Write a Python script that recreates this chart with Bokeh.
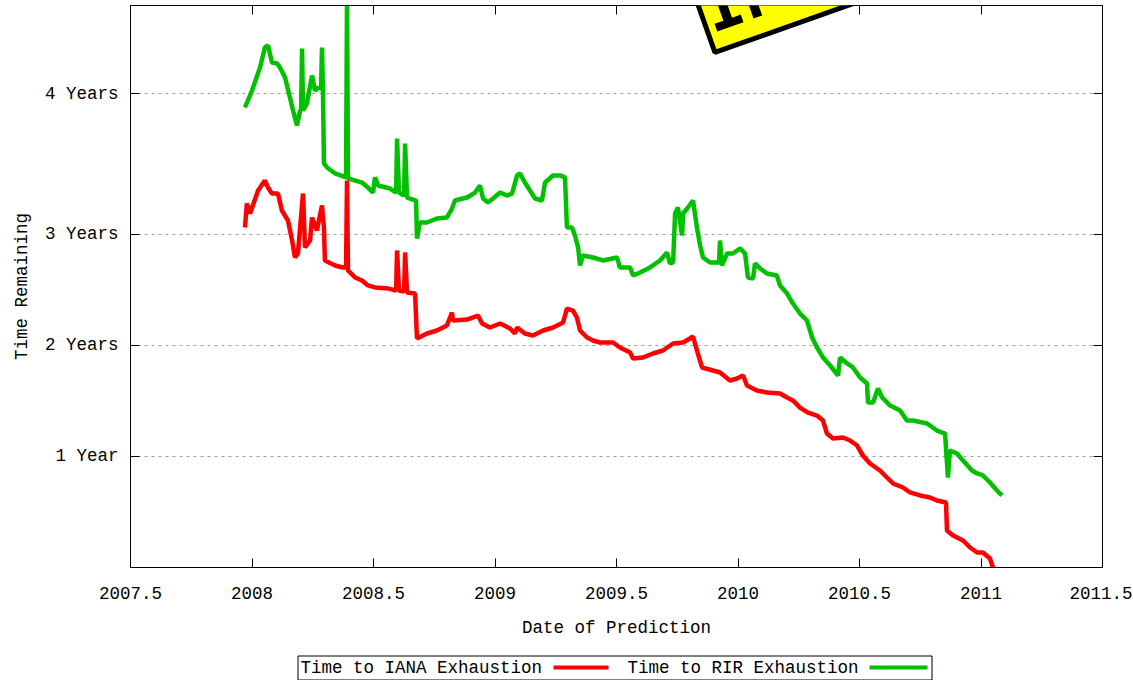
from bokeh.plotting import figure
from bokeh.models import FixedTicker, LinearAxis, Label, Range1d
from bokeh.layouts import column
from bokeh.core.properties import value
from bokeh.embed import file_html
from bokeh.resources import INLINE

# ---- data ----
iana_x = [2007.971, 2007.979, 2007.992, 2008.025, 2008.053, 2008.066, 2008.082, 2008.107, 2008.123, 2008.148,
          2008.165, 2008.177, 2008.189, 2008.210, 2008.218, 2008.239, 2008.247, 2008.267, 2008.288, 2008.296,
          2008.300, 2008.342, 2008.374, 2008.387, 2008.391, 2008.395, 2008.424, 2008.453, 2008.477, 2008.506,
          2008.560, 2008.593, 2008.597, 2008.605, 2008.626, 2008.630, 2008.638, 2008.671, 2008.679, 2008.720,
          2008.761, 2008.802, 2008.823, 2008.827, 2008.885, 2008.930, 2008.947, 2008.979, 2009.021, 2009.062,
          2009.082, 2009.091, 2009.123, 2009.156, 2009.198, 2009.239, 2009.280, 2009.296, 2009.321, 2009.337,
          2009.350, 2009.379, 2009.403, 2009.432, 2009.486, 2009.514, 2009.556, 2009.568, 2009.609, 2009.650,
          2009.691, 2009.733, 2009.774, 2009.802, 2009.815, 2009.831, 2009.852, 2009.897, 2009.926, 2009.967,
          2009.996, 2010.021, 2010.037, 2010.078, 2010.119, 2010.173, 2010.202, 2010.226, 2010.255, 2010.288,
          2010.325, 2010.350, 2010.366, 2010.391, 2010.432, 2010.461, 2010.490, 2010.514, 2010.543, 2010.584,
          2010.613, 2010.638, 2010.679, 2010.708, 2010.749, 2010.790, 2010.819, 2010.856, 2010.860, 2010.885,
          2010.926, 2010.955, 2010.984, 2011.008, 2011.037, 2011.049, 2011.058]
iana_years = [3.063, 3.279, 3.189, 3.396, 3.486, 3.423, 3.369, 3.369, 3.216, 3.126,
              2.946, 2.793, 2.829, 3.369, 2.883, 2.946, 3.153, 3.036, 3.261, 3.063,
              2.766, 2.721, 2.703, 2.703, 3.486, 2.676, 2.613, 2.586, 2.541, 2.523,
              2.514, 2.495, 2.856, 2.495, 2.486, 2.838, 2.477, 2.468, 2.063, 2.108,
              2.135, 2.180, 2.297, 2.225, 2.234, 2.270, 2.198, 2.162, 2.198, 2.153,
              2.108, 2.162, 2.108, 2.090, 2.135, 2.162, 2.207, 2.333, 2.315, 2.252,
              2.135, 2.072, 2.045, 2.027, 2.027, 1.982, 1.937, 1.883, 1.892, 1.928,
              1.955, 2.018, 2.027, 2.063, 2.081, 1.955, 1.802, 1.775, 1.757, 1.685,
              1.703, 1.730, 1.640, 1.595, 1.577, 1.568, 1.532, 1.505, 1.441, 1.396,
              1.369, 1.324, 1.207, 1.162, 1.171, 1.144, 1.099, 1.009, 0.937, 0.874,
              0.811, 0.757, 0.721, 0.676, 0.649, 0.631, 0.604, 0.586, 0.333, 0.288,
              0.243, 0.180, 0.135, 0.135, 0.081, 0.000, -0.045]

rir_x = [2007.971, 2008.000, 2008.033, 2008.053, 2008.066, 2008.082, 2008.103, 2008.115, 2008.136, 2008.169,
         2008.185, 2008.198, 2008.202, 2008.206, 2008.210, 2008.226, 2008.247, 2008.259, 2008.272, 2008.284,
         2008.288, 2008.292, 2008.296, 2008.309, 2008.342, 2008.387, 2008.391, 2008.395, 2008.453, 2008.477,
         2008.498, 2008.506, 2008.519, 2008.568, 2008.593, 2008.597, 2008.605, 2008.626, 2008.630, 2008.638,
         2008.675, 2008.679, 2008.691, 2008.720, 2008.761, 2008.802, 2008.823, 2008.835, 2008.885, 2008.918,
         2008.938, 2008.951, 2008.971, 2008.992, 2009.021, 2009.049, 2009.070, 2009.091, 2009.103, 2009.123,
         2009.144, 2009.165, 2009.193, 2009.206, 2009.239, 2009.267, 2009.288, 2009.296, 2009.317, 2009.329,
         2009.342, 2009.350, 2009.362, 2009.403, 2009.444, 2009.502, 2009.514, 2009.556, 2009.568, 2009.597,
         2009.638, 2009.679, 2009.708, 2009.720, 2009.733, 2009.741, 2009.753, 2009.770, 2009.774, 2009.794,
         2009.815, 2009.831, 2009.844, 2009.856, 2009.885, 2009.922, 2009.926, 2009.934, 2009.955, 2009.979,
         2010.008, 2010.029, 2010.041, 2010.062, 2010.070, 2010.091, 2010.119, 2010.160, 2010.173, 2010.202,
         2010.226, 2010.255, 2010.284, 2010.305, 2010.325, 2010.350, 2010.379, 2010.412, 2010.420, 2010.449,
         2010.473, 2010.502, 2010.531, 2010.535, 2010.556, 2010.576, 2010.593, 2010.626, 2010.667, 2010.695,
         2010.720, 2010.778, 2010.819, 2010.852, 2010.864, 2010.872, 2010.901, 2010.926, 2010.963, 2010.984,
         2011.008, 2011.037, 2011.066, 2011.086]
rir_years = [4.144, 4.297, 4.505, 4.685, 4.703, 4.550, 4.541, 4.505, 4.414, 4.117,
             3.982, 4.117, 4.117, 4.676, 4.117, 4.180, 4.432, 4.297, 4.324, 4.315,
             4.685, 4.297, 3.640, 3.604, 3.550, 3.514, 5.153, 3.505, 3.468, 3.423,
             3.378, 3.514, 3.441, 3.414, 3.378, 3.865, 3.378, 3.351, 3.820, 3.333,
             3.306, 2.964, 3.108, 3.108, 3.144, 3.153, 3.234, 3.306, 3.333, 3.378,
             3.441, 3.324, 3.288, 3.324, 3.378, 3.351, 3.369, 3.532, 3.550, 3.468,
             3.396, 3.324, 3.306, 3.468, 3.532, 3.532, 3.514, 3.063, 3.063, 2.991,
             2.883, 2.721, 2.811, 2.793, 2.766, 2.793, 2.703, 2.703, 2.631, 2.658,
             2.703, 2.766, 2.838, 2.739, 2.748, 3.189, 3.243, 2.991, 3.189, 3.243,
             3.306, 3.063, 2.901, 2.793, 2.748, 2.748, 2.946, 2.721, 2.829, 2.829,
             2.874, 2.829, 2.613, 2.604, 2.739, 2.694, 2.649, 2.631, 2.541, 2.468,
             2.378, 2.288, 2.225, 2.072, 1.982, 1.892, 1.820, 1.730, 1.892, 1.838,
             1.802, 1.712, 1.658, 1.486, 1.486, 1.613, 1.532, 1.459, 1.414, 1.324,
             1.324, 1.297, 1.234, 1.207, 0.811, 1.054, 1.027, 0.964, 0.874, 0.847,
             0.829, 0.766, 0.694, 0.649]

x_ticks = [2007.5, 2008, 2008.5, 2009, 2009.5, 2010, 2010.5, 2011, 2011.5]
x_tick_labels = ["2007.5", "2008", "2008.5", "2009", "2009.5", "2010", "2010.5", "2011", "2011.5"]
y_ticks = [1, 2, 3, 4.27]
y_tick_labels = ["1 Year", "2 Years", "3 Years", "4 Years"]
series_names = ["Time to IANA Exhaustion", "Time to RIR Exhaustion"]
sticker_text = "IPv4"

FONT = "Liberation Mono"
FS = "17.5px"
RED = "#ff0000"
GREEN = "#00c000"

p = figure(frame_width=972, frame_height=562,
           x_range=Range1d(2007.5, 2011.5), y_range=Range1d(0, 5.063),
           output_backend="svg", toolbar_location=None,
           min_border_left=130, min_border_right=30, min_border_top=5, min_border_bottom=80,
           x_axis_label="Date of Prediction", y_axis_label="Time Remaining")
p.background_fill_color = "white"
p.border_fill_color = "white"
p.outline_line_color = "black"

bottom_axis = p.below[0]
left_axis = p.left[0]

xt = FixedTicker(ticks=x_ticks)
yt = FixedTicker(ticks=y_ticks)
bottom_axis.ticker = xt
left_axis.ticker = yt
bottom_axis.major_label_overrides = dict(zip(x_ticks, x_tick_labels))
left_axis.major_label_overrides = dict(zip(y_ticks, y_tick_labels))

top_axis = LinearAxis(ticker=xt, major_label_overrides={t: "" for t in x_ticks})
right_axis = LinearAxis(ticker=yt, major_label_overrides={t: "" for t in y_ticks})
p.add_layout(top_axis, "above")
p.add_layout(right_axis, "right")

for ax in (bottom_axis, left_axis, top_axis, right_axis):
    ax.axis_line_color = "black"
    ax.axis_line_width = 1
    ax.major_tick_in = 9
    ax.major_tick_out = 0
    ax.major_tick_line_color = "black"
    ax.minor_tick_line_color = None
    ax.major_label_text_font = FONT
    ax.major_label_text_font_size = FS
    ax.major_label_text_color = "black"
    ax.axis_label_text_font = FONT
    ax.axis_label_text_font_size = FS
    ax.axis_label_text_font_style = "normal"
    ax.axis_label_text_color = "black"

for ax in (top_axis, right_axis):
    ax.major_label_text_font_size = "1px"
    ax.major_label_standoff = 0

bottom_axis.major_label_standoff = 19
bottom_axis.axis_label_standoff = 16
left_axis.major_label_standoff = 12
left_axis.axis_label_standoff = 10

p.xgrid.visible = False
p.ygrid.ticker = yt
p.ygrid.grid_line_color = "#a0a0a0"
p.ygrid.grid_line_dash = "3 4"
p.ygrid.grid_line_width = 1

p.line(iana_x, iana_years, line_color=RED, line_width=4.5)
p.line(rir_x, rir_years, line_color=GREEN, line_width=4.5)

# yellow sticker at the top, mostly cut off
p.add_layout(Label(x=2009.905, y=4.64, text=sticker_text, text_font="DejaVu Sans Mono",
                   text_font_style="bold", text_font_size="64px", text_color="black",
                   text_align="left", text_baseline="bottom", angle=0.34, padding=4,
                   background_fill_color="#ffff00", border_line_color="black", border_line_width=5))

# gnuplot-style key below the chart: text followed by a line sample.
# Its frame is aligned with the main frame, so x is expressed in page pixels 130..1102.
leg = figure(width=1132, height=33, x_range=Range1d(130, 1102), y_range=Range1d(33, 0),
             output_backend="svg", toolbar_location=None,
             min_border_left=130, min_border_right=30, min_border_top=0, min_border_bottom=0,
             x_axis_type=None, y_axis_type=None)
leg.grid.visible = False
leg.outline_line_color = None
leg.background_fill_color = "white"
leg.border_fill_color = "white"
leg.quad(left=[297.5], right=[931.5], top=[8.5], bottom=[32.5], fill_color=None,
         line_color="black", line_width=1)
leg.text(x=[300, 627], y=[20.5, 20.5], text=series_names, text_font=value(FONT),
         text_font_size=FS, text_baseline="middle", text_align="left", text_color="black")
leg.segment(x0=[553, 869], y0=[20, 20], x1=[608, 927], y1=[20, 20],
            line_color=[RED, GREEN], line_width=4)

layout = column(p, leg, spacing=0)
open("out.html", "w").write(file_html(layout, INLINE))
